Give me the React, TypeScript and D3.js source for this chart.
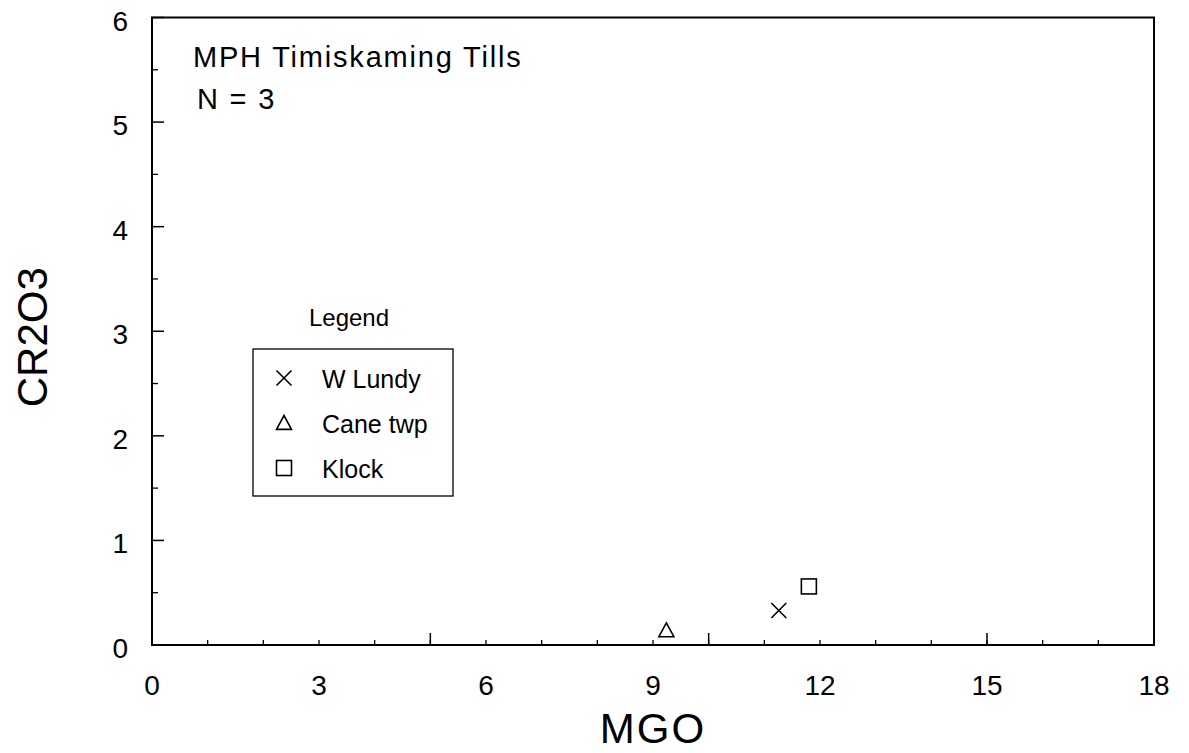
import React from "react";
import * as d3 from "d3";

// Till sample sites: MgO vs Cr2O3 (wt %)
const seriesNames = ["W Lundy", "Cane twp", "Klock"];
const seriesSymbols = ["cross", "triangle", "square"];
const mgoValues = [11.26, 9.24, 11.8];
const cr2o3Values = [0.33, 0.14, 0.56];

const xLabelTicks = [0, 3, 6, 9, 12, 15, 18];
const xMajorTicks = [0, 5, 10, 15];
const xMinorTicks = d3.range(0, 19, 1);
const yLabelTicks = [0, 1, 2, 3, 4, 5, 6];
const yMinorTicks = d3.range(0.5, 6, 1);

const W = 1189;
const H = 753;
const FONT = "'Liberation Sans', Arial, Helvetica, sans-serif";

const x = d3.scaleLinear().domain([0, 18]).range([152, 1154]);
const y = d3.scaleLinear().domain([0, 6]).range([645, 17.5]);

function Marker({ kind, cx, cy }: { kind: string; cx: number; cy: number }) {
  const s = 7.5;
  const common = { fill: "none", stroke: "#000", strokeWidth: 1.6 };
  if (kind === "cross") {
    return (
      <path
        d={`M${cx - s},${cy - s}L${cx + s},${cy + s}M${cx - s},${cy + s}L${cx + s},${cy - s}`}
        {...common}
      />
    );
  }
  if (kind === "triangle") {
    return (
      <path
        d={`M${cx},${cy - s}L${cx + s},${cy + s * 0.85}L${cx - s},${cy + s * 0.85}Z`}
        {...common}
      />
    );
  }
  return <rect x={cx - s} y={cy - s} width={2 * s} height={2 * s} {...common} />;
}

export default function App() {
  const [x0, x1] = x.range();
  const [y0, y1] = y.range();
  return (
    <svg
      width={W}
      height={H}
      style={{ position: "absolute", left: 0, top: 0, background: "#fff" }}
      fontFamily={FONT}
    >
      <rect x={0} y={0} width={W} height={H} fill="#fff" />

      {/* frame */}
      <rect x={x0} y={y1} width={x1 - x0} height={y0 - y1} fill="none" stroke="#000" strokeWidth={2} />

      {/* x ticks (inward) */}
      {xMinorTicks.map((t) => (
        <line key={`xm${t}`} x1={x(t)} x2={x(t)} y1={y0} y2={y0 - 5} stroke="#000" strokeWidth={1.3} />
      ))}
      {xMajorTicks.map((t) => (
        <line key={`xM${t}`} x1={x(t)} x2={x(t)} y1={y0} y2={y0 - 12} stroke="#000" strokeWidth={1.5} />
      ))}
      {xLabelTicks.map((t) => (
        <text key={`xl${t}`} x={x(t)} y={695} fontSize={28} textAnchor="middle" fill="#000">
          {t}
        </text>
      ))}

      {/* y ticks (inward) */}
      {yLabelTicks.map((t) => (
        <line key={`yM${t}`} x1={x0} x2={x0 + 12} y1={y(t)} y2={y(t)} stroke="#000" strokeWidth={1.5} />
      ))}
      {yMinorTicks.map((t) => (
        <line key={`ym${t}`} x1={x0} x2={x0 + 6} y1={y(t)} y2={y(t)} stroke="#000" strokeWidth={1.3} />
      ))}
      {yLabelTicks.map((t) => (
        <text key={`yl${t}`} x={128} y={y(t) + 13} fontSize={28} textAnchor="end" fill="#000">
          {t}
        </text>
      ))}

      {/* axis titles */}
      <text x={(x0 + x1) / 2} y={743} fontSize={42} letterSpacing={2} textAnchor="middle" fill="#000">
        MGO
      </text>
      <text
        transform={`translate(47,${(y0 + y1) / 2 + 6}) rotate(-90)`}
        fontSize={42}
        textAnchor="middle"
        fill="#000"
      >
        CR2O3
      </text>

      {/* annotation */}
      <text x={193} y={67} fontSize={29} letterSpacing={1.8} fill="#000">
        MPH Timiskaming Tills
      </text>
      <text x={197} y={109} fontSize={29} letterSpacing={1.8} fill="#000">
        N = 3
      </text>

      {/* data */}
      {mgoValues.map((v, i) => (
        <Marker key={`p${i}`} kind={seriesSymbols[i]} cx={x(v)} cy={y(cr2o3Values[i])} />
      ))}

      {/* legend */}
      <text x={349} y={326} fontSize={24} textAnchor="middle" fill="#000">
        Legend
      </text>
      <rect x={253} y={349} width={200} height={147} fill="none" stroke="#000" strokeWidth={1.3} />
      {seriesNames.map((name, i) => (
        <g key={`lg${i}`}>
          <Marker kind={seriesSymbols[i]} cx={284} cy={378 + i * 45} />
          <text x={322} y={388 + i * 45} fontSize={25} fill="#000">
            {name}
          </text>
        </g>
      ))}
    </svg>
  );
}
